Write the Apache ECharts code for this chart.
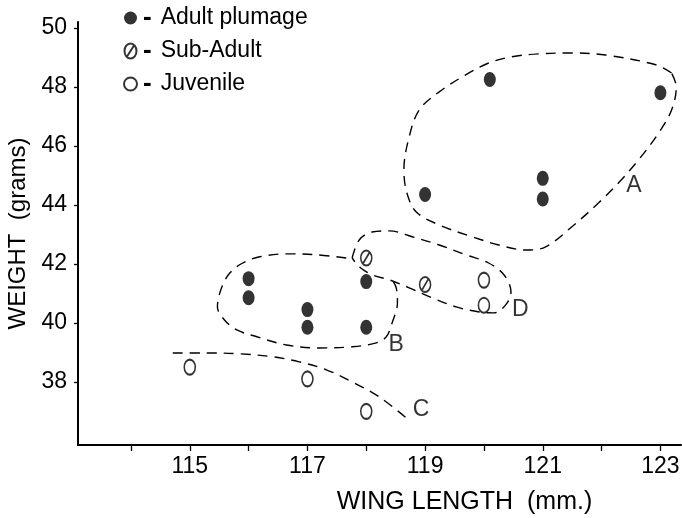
<!DOCTYPE html>
<html><head><meta charset="utf-8">
<script src="https://cdn.jsdelivr.net/npm/echarts@6/dist/echarts.min.js"></script>
<style>html,body{margin:0;padding:0;background:#fff}#c{width:682px;height:518px}</style>
</head><body><div id="c"></div>
<script>
// ---- data (wing length mm, weight g) ----
const adultX = [116, 116, 117, 117, 118, 118, 119, 120.1, 121, 121, 123];
const adultY = [41.5, 40.85, 40.45, 39.85, 41.4, 39.85, 44.35, 48.25, 44.9, 44.2, 47.8];
const subX = [118, 119];
const subY = [42.2, 41.3];
const juvX = [120, 120, 115, 117, 118];
const juvY = [41.45, 40.6, 38.5, 38.1, 37.0];

const xTickValues = [114, 115, 116, 117, 118, 119, 120, 121, 122, 123];
const xLabelValues = [115, 117, 119, 121, 123];
const yLabelValues = [38, 40, 42, 44, 46, 48, 50];

// hand-drawn group outlines (data units)
const groupAX = [123.19,122.92,122.07,121.49,120.93,120.47,120.08,119.69,119.24,118.90,118.73,118.64,118.69,118.85,119.24,119.80,120.25,120.71,121.05,121.49,121.95,122.29,122.63,122.97,123.19,123.27,123.19];
const groupAY = [48.47,48.75,49.08,49.15,49.12,49.02,48.81,48.41,47.83,47.22,46.31,45.19,44.41,43.76,43.32,42.92,42.64,42.47,42.58,43.25,44.07,44.75,45.53,46.44,47.22,48.0,48.47];
const groupBX = [117.66,117.15,116.64,116.19,115.90,115.68,115.54,115.47,115.59,115.80,116.14,116.64,117.20,117.76,118.17,118.34,118.44,118.53,118.51,118.46];
const groupBY = [42.20,42.31,42.34,42.24,42.03,41.69,41.19,40.54,40.10,39.76,39.53,39.25,39.15,39.19,39.32,39.53,40.0,40.68,41.19,41.39];
const groupCX = [114.71,115.29,115.85,116.41,116.86,117.32,117.76,118.22,118.68];
const groupCY = [38.98,38.98,38.95,38.85,38.68,38.41,38.0,37.49,36.78];
const groupDX = [117.76,117.88,118.10,118.39,118.78,119.24,119.69,120.08,120.34,120.46,120.37,120.17,119.92,119.53,119.12,118.73,118.39,118.10,117.88,117.76];
const groupDY = [42.20,42.81,43.08,43.12,42.92,42.64,42.31,42.03,41.63,41.05,40.61,40.34,40.37,40.54,40.85,41.19,41.46,41.63,41.90,42.20];
const groupNames = ['A', 'B', 'C', 'D'];
const groupLabelX = [122.55, 118.51, 118.93, 120.62];
const groupLabelY = [44.65, 39.25, 37.05, 40.44];

const seriesNames = ['Adult plumage', 'Sub-Adult', 'Juvenile'];

const zip = (xs, ys) => xs.map((x, i) => [x, ys[i]]);
const FONT = '"Liberation Sans", Arial, sans-serif';
const dash = { color: '#000', width: 1.4, type: [10, 7] };
const outline = (xs, ys) => ({
  type: 'line', data: zip(xs, ys), smooth: 0.35, showSymbol: false, symbol: 'none',
  lineStyle: dash, silent: true, z: 1, clip: false
});

const subSymbol = 'path://M0,7.5 A6,7.5 0 1 1 12,7.5 A6,7.5 0 1 1 0,7.5 Z M2.5,13 L9.5,2';

const chart = echarts.init(document.getElementById('c'), null, { renderer: 'canvas' });
chart.setOption({
  animation: false,
  backgroundColor: '#fff',
  textStyle: { fontFamily: FONT, color: '#000' },
  grid: { left: 78, right: 1, top: 22, bottom: 73, outerBoundsMode: 'none', containLabel: false },
  legend: {
    orient: 'vertical', left: 123, top: 5, padding: 0, itemWidth: 13, itemHeight: 15, itemGap: 7,
    data: seriesNames,
    formatter: n => '{d|-}{t|' + n + '}',
    textStyle: {
      fontFamily: FONT, fontSize: 23, color: '#000',
      rich: {
        d: { fontFamily: FONT, fontSize: 26, fontWeight: 'bold', color: '#000', lineHeight: 20, padding: [0, 9, 0, 1] },
        t: { fontFamily: FONT, fontSize: 23, color: '#000', lineHeight: 20 }
      }
    }
  },
  xAxis: {
    type: 'value', min: 113.1, max: 123.35,
    name: 'WING LENGTH  (mm.)', nameLocation: 'middle', nameGap: 45,
    nameTextStyle: { fontSize: 25, fontFamily: FONT, color: '#000', padding: [0, 0, 0, 170] },
    axisLine: { show: true, lineStyle: { color: '#000', width: 2 } },
    axisTick: { show: true, length: 6, customValues: xTickValues, lineStyle: { color: '#000', width: 1.3 } },
    axisLabel: { customValues: xLabelValues, margin: 10, fontSize: 23, color: '#000', fontFamily: FONT },
    splitLine: { show: false }
  },
  yAxis: {
    type: 'value', min: 35.86, max: 50.2,
    name: 'WEIGHT  (grams)', nameLocation: 'middle', nameGap: 45, nameRotate: 90,
    nameTextStyle: { fontSize: 24, fontFamily: FONT, color: '#000' },
    axisLine: { show: true, lineStyle: { color: '#000', width: 2 } },
    axisTick: { show: true, length: 4, customValues: yLabelValues, lineStyle: { color: '#000', width: 1.3 } },
    axisLabel: { customValues: yLabelValues, margin: 11, fontSize: 23, color: '#000', fontFamily: FONT },
    splitLine: { show: false }
  },
  series: [
    {
      name: seriesNames[0], type: 'scatter', data: zip(adultX, adultY),
      symbol: 'circle', symbolSize: [12, 15], itemStyle: { color: '#000' }, z: 3
    },
    {
      name: seriesNames[1], type: 'scatter', data: zip(subX, subY),
      symbol: subSymbol, symbolSize: [11, 15],
      itemStyle: { color: '#fff', borderColor: '#000', borderWidth: 1.8 }, z: 3
    },
    {
      name: seriesNames[2], type: 'scatter', data: zip(juvX, juvY),
      symbol: 'circle', symbolSize: [11, 15],
      itemStyle: { color: '#fff', borderColor: '#000', borderWidth: 1.8 }, z: 3
    },
    outline(groupAX, groupAY),
    outline(groupBX, groupBY),
    outline(groupCX, groupCY),
    outline(groupDX, groupDY),
    {
      type: 'scatter', symbolSize: 0, silent: true, z: 4,
      data: groupNames.map((n, i) => ({ name: n, value: [groupLabelX[i], groupLabelY[i]] })),
      label: { show: true, position: 'inside', formatter: p => p.name, fontSize: 23, color: '#000', fontFamily: FONT }
    }
  ]
});
</script></body></html>
